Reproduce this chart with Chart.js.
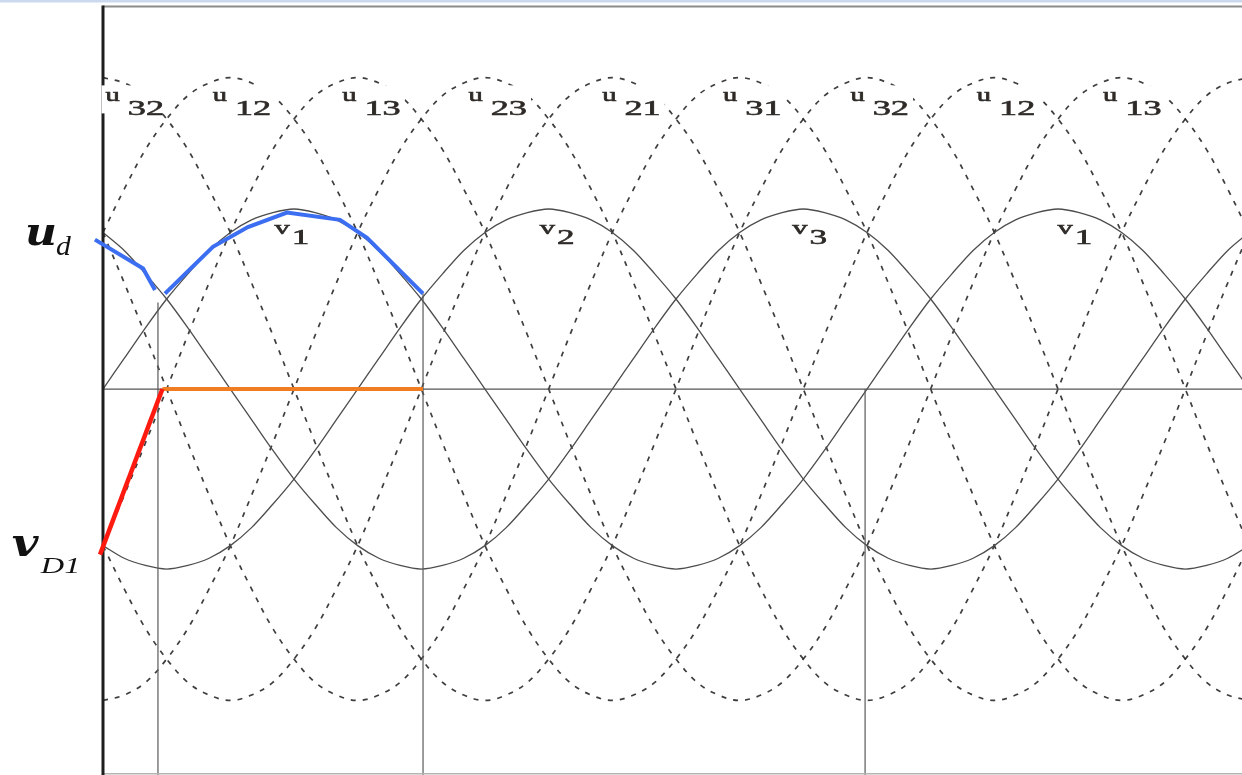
<!DOCTYPE html>
<html>
<head>
<meta charset="utf-8">
<script src="https://cdn.jsdelivr.net/npm/chart.js@4"></script>
<style>
  html, body { margin: 0; padding: 0; background: #fff; overflow: hidden; }
  #wrap { width: 1242px; height: 775px; }
</style>
</head>
<body>
<div id="wrap"><canvas id="c" width="1242" height="775"></canvas></div>
<script>
// Electrical angle (degrees) of every sample
const angleDeg = [0,10,20,30,40,50,60,70,80,90,100,110,120,130,140,150,160,170,180,190,200,210,220,230,240,250,260,270,280,290,300,310,320,330,340,350,360,370,380,390,400,410,420,430,440,450,460,470,480,490,500,510,520,530,540];

// Phase voltages (per unit of phase peak)
const v1 = [0,.17,.34,.5,.64,.77,.87,.94,.98,1,.98,.94,.87,.77,.64,.5,.34,.17,0,-.17,-.34,-.5,-.64,-.77,-.87,-.94,-.98,-1,-.98,-.94,-.87,-.77,-.64,-.5,-.34,-.17,0,.17,.34,.5,.64,.77,.87,.94,.98,1,.98,.94,.87,.77,.64,.5,.34,.17,0];
const v2 = [-.87,-.94,-.98,-1,-.98,-.94,-.87,-.77,-.64,-.5,-.34,-.17,0,.17,.34,.5,.64,.77,.87,.94,.98,1,.98,.94,.87,.77,.64,.5,.34,.17,0,-.17,-.34,-.5,-.64,-.77,-.87,-.94,-.98,-1,-.98,-.94,-.87,-.77,-.64,-.5,-.34,-.17,0,.17,.34,.5,.64,.77,.87];
const v3 = [.87,.77,.64,.5,.34,.17,0,-.17,-.34,-.5,-.64,-.77,-.87,-.94,-.98,-1,-.98,-.94,-.87,-.77,-.64,-.5,-.34,-.17,0,.17,.34,.5,.64,.77,.87,.94,.98,1,.98,.94,.87,.77,.64,.5,.34,.17,0,-.17,-.34,-.5,-.64,-.77,-.87,-.94,-.98,-1,-.98,-.94,-.87];

// Line-to-line voltages
const u32 = [1.73,1.7,1.63,1.5,1.33,1.11,.87,.59,.3,0,-.3,-.59,-.87,-1.11,-1.33,-1.5,-1.63,-1.7,-1.73,-1.7,-1.63,-1.5,-1.33,-1.11,-.87,-.59,-.3,0,.3,.59,.87,1.11,1.33,1.5,1.63,1.7,1.73,1.7,1.63,1.5,1.33,1.11,.87,.59,.3,0,-.3,-.59,-.87,-1.11,-1.33,-1.5,-1.63,-1.7,-1.73];
const u12 = [.87,1.11,1.33,1.5,1.63,1.7,1.73,1.7,1.63,1.5,1.33,1.11,.87,.59,.3,0,-.3,-.59,-.87,-1.11,-1.33,-1.5,-1.63,-1.7,-1.73,-1.7,-1.63,-1.5,-1.33,-1.11,-.87,-.59,-.3,0,.3,.59,.87,1.11,1.33,1.5,1.63,1.7,1.73,1.7,1.63,1.5,1.33,1.11,.87,.59,.3,0,-.3,-.59,-.87];
const u13 = [-.87,-.59,-.3,0,.3,.59,.87,1.11,1.33,1.5,1.63,1.7,1.73,1.7,1.63,1.5,1.33,1.11,.87,.59,.3,0,-.3,-.59,-.87,-1.11,-1.33,-1.5,-1.63,-1.7,-1.73,-1.7,-1.63,-1.5,-1.33,-1.11,-.87,-.59,-.3,0,.3,.59,.87,1.11,1.33,1.5,1.63,1.7,1.73,1.7,1.63,1.5,1.33,1.11,.87];
const u23 = [-1.73,-1.7,-1.63,-1.5,-1.33,-1.11,-.87,-.59,-.3,0,.3,.59,.87,1.11,1.33,1.5,1.63,1.7,1.73,1.7,1.63,1.5,1.33,1.11,.87,.59,.3,0,-.3,-.59,-.87,-1.11,-1.33,-1.5,-1.63,-1.7,-1.73,-1.7,-1.63,-1.5,-1.33,-1.11,-.87,-.59,-.3,0,.3,.59,.87,1.11,1.33,1.5,1.63,1.7,1.73];
const u21 = [-.87,-1.11,-1.33,-1.5,-1.63,-1.7,-1.73,-1.7,-1.63,-1.5,-1.33,-1.11,-.87,-.59,-.3,0,.3,.59,.87,1.11,1.33,1.5,1.63,1.7,1.73,1.7,1.63,1.5,1.33,1.11,.87,.59,.3,0,-.3,-.59,-.87,-1.11,-1.33,-1.5,-1.63,-1.7,-1.73,-1.7,-1.63,-1.5,-1.33,-1.11,-.87,-.59,-.3,0,.3,.59,.87];
const u31 = [.87,.59,.3,0,-.3,-.59,-.87,-1.11,-1.33,-1.5,-1.63,-1.7,-1.73,-1.7,-1.63,-1.5,-1.33,-1.11,-.87,-.59,-.3,0,.3,.59,.87,1.11,1.33,1.5,1.63,1.7,1.73,1.7,1.63,1.5,1.33,1.11,.87,.59,.3,0,-.3,-.59,-.87,-1.11,-1.33,-1.5,-1.63,-1.7,-1.73,-1.7,-1.63,-1.5,-1.33,-1.11,-.87];

// Rectified output u_d (diode D1 conducting from 30 to 150 deg)
const udAngle = [-3.8, 18.9, 24.5, 27, 29.2, 51.8, 68.3, 86.7, 111.7, 124.4, 150.8];
const udValue = [0.83, 0.67, 0.55, null, 0.53, 0.79, 0.9, 0.98, 0.94, 0.84, 0.53];

// Diode voltage v_D1: reverse-biased ramp, then zero while conducting
const vdRampAngle = [-1.4, 28];
const vdRampValue = [-0.92, 0];
const vdOnAngle = [28, 150.8];
const vdOnValue = [0, 0];

// Line-voltage curve names and where their names sit (deg)
const lineNames = ['32','12','13','23','21','31','32','12','13'];
const lineNameAngle = [15, 65.5, 126.5, 186, 249, 306, 366, 425.5, 485];
// Phase names
const phaseNames = ['1','2','3','1'];
const phaseNameAngle = [89, 214, 333, 458];

// Guide lines (deg, value ranges)
const guideX = [25.9, 150.8, 359.1];
const guideTop = [0.48, 0.53, 0];
const BOTTOM = -2.25;

const pts = (xs, ys) => xs.map((x, i) => ({ x, y: ys[i] }));
const onGrid = ys => pts(angleDeg, ys);

const solid = (data) => ({ data: onGrid(data), borderColor: '#4d4d4d', borderWidth: 1.3, tension: 0.3, order: 5 });
const dashed = (data) => ({ data: onGrid(data), borderColor: 'rgba(35,35,35,0.88)', borderWidth: 1.7, borderDash: [5, 7], tension: 0.35, order: 6 });
const straight = (data, color, w, order) => ({ data, borderColor: color, borderWidth: w, tension: 0, order });

const datasets = [
  // highlighted traces
  { data: pts(udAngle, udValue), borderColor: '#3c6ef2', borderWidth: 4, tension: 0, spanGaps: false, order: 0 },
  { data: pts(vdRampAngle, vdRampValue), borderColor: '#ff1a10', borderWidth: 4.5, tension: 0, order: 0 },
  { data: pts(vdOnAngle, vdOnValue), borderColor: '#f07d22', borderWidth: 4, tension: 0, order: 0 },
  // axes and guides
  straight([{ x: 0, y: 2.13 }, { x: 0, y: BOTTOM }], '#1e1e1e', 3, 2),
  straight([{ x: 0, y: 0 }, { x: 540, y: 0 }], '#555', 1.3, 3),
  straight([{ x: 0, y: 2.125 }, { x: 540, y: 2.125 }], '#8c8c8c', 2, 3),
  straight([{ x: 0, y: -2.137 }, { x: 540, y: -2.137 }], '#b4b4b4', 1.5, 3),
  ...guideX.map((g, i) => straight([{ x: g, y: guideTop[i] }, { x: g, y: BOTTOM }], '#5a5a5a', 1.2, 3)),
  // phase voltages
  solid(v1), solid(v2), solid(v3),
  // line voltages
  dashed(u32), dashed(u12), dashed(u13), dashed(u23), dashed(u21), dashed(u31)
];

function scaledText(ctx, text, x, y, font, sx, stroke) {
  ctx.save();
  ctx.translate(x, y);
  ctx.scale(sx, 1);
  ctx.font = font;
  ctx.fillText(text, 0, 0);
  if (stroke) {
    ctx.lineWidth = stroke;
    ctx.strokeStyle = ctx.fillStyle;
    ctx.strokeText(text, 0, 0);
  }
  ctx.restore();
}
function textW(ctx, text, font, sx) {
  ctx.font = font;
  return ctx.measureText(text).width * sx;
}

const waveLabels = {
  id: 'waveLabels',
  beforeDraw(chart) {
    const { ctx, width, height } = chart;
    ctx.save();
    ctx.fillStyle = '#fff';
    ctx.fillRect(0, 0, width, height);
    ctx.fillStyle = '#cbd9ee';
    ctx.fillRect(0, 0, width, 2.5);
    ctx.restore();
  },
  afterDatasetsDraw(chart) {
    const { ctx, scales: { x, y } } = chart;
    ctx.save();
    ctx.textBaseline = 'alphabetic';
    ctx.textAlign = 'left';

    // u_xy names on the line voltages
    const fU = '19px "Liberation Serif"', fN = '22px "Liberation Serif"';
    const sU = 1.5, sN = 1.65;
    const yb = y.getPixelForValue(1.52);
    lineNames.forEach((n, i) => {
      const cx = x.getPixelForValue(lineNameAngle[i]);
      const wu = textW(ctx, 'u', fU, sU), wn = textW(ctx, n, fN, sN), gap = 8;
      const w = wu + gap + wn;
      const left = cx - w / 2;
      ctx.fillStyle = '#fff';
      ctx.fillRect(left - 4, yb - 30, w + 8, 28);
      ctx.fillStyle = '#2e2a27';
      scaledText(ctx, 'u', left, yb - 14, fU, sU, 0.6);
      scaledText(ctx, n, left + wu + gap, yb, fN, sN, 0.6);
    });

    // v_k names on the phase voltages
    const yv = y.getPixelForValue(0.806);
    phaseNames.forEach((n, i) => {
      const cx = x.getPixelForValue(phaseNameAngle[i]);
      const wv = textW(ctx, 'v', fU, 1.6), wn = textW(ctx, n, fN, 1.6), gap = 2;
      const left = cx - (wv + gap + wn) / 2;
      ctx.fillStyle = '#2e2a27';
      scaledText(ctx, 'v', left, yv - 10, fU, 1.6, 0.6);
      scaledText(ctx, n, left + wv + gap, yv, fN, 1.6, 0.6);
    });

    // Trace names at the left
    ctx.fillStyle = '#111';
    const xL = x.getPixelForValue(-36.8);
    const yUd = y.getPixelForValue(0.8);
    scaledText(ctx, 'u', xL, yUd, 'bold italic 40px "DejaVu Serif"', 1.1);
    scaledText(ctx, 'd', xL + 31, yUd + 10, 'italic 27px "Liberation Serif"', 1.1);

    const xV = x.getPixelForValue(-43);
    const yVd = y.getPixelForValue(-0.925);
    scaledText(ctx, 'v', xV, yVd, 'bold italic 40px "DejaVu Serif"', 1.15);
    scaledText(ctx, 'D1', xV + 29, yVd + 17, 'italic 24px "Liberation Serif"', 1.35);
    ctx.restore();
  }
};

new Chart(document.getElementById('c'), {
  type: 'line',
  data: { datasets },
  options: {
    responsive: false,
    maintainAspectRatio: false,
    animation: false,
    devicePixelRatio: 1,
    layout: { padding: 0 },
    elements: { point: { radius: 0, hoverRadius: 0 } },
    plugins: { legend: { display: false }, tooltip: { enabled: false } },
    scales: {
      x: { type: 'linear', min: -48.53, max: 536.7, display: false },
      y: { type: 'linear', min: -2.144, max: 2.161, display: false }
    }
  },
  plugins: [waveLabels]
});
</script>
</body>
</html>
